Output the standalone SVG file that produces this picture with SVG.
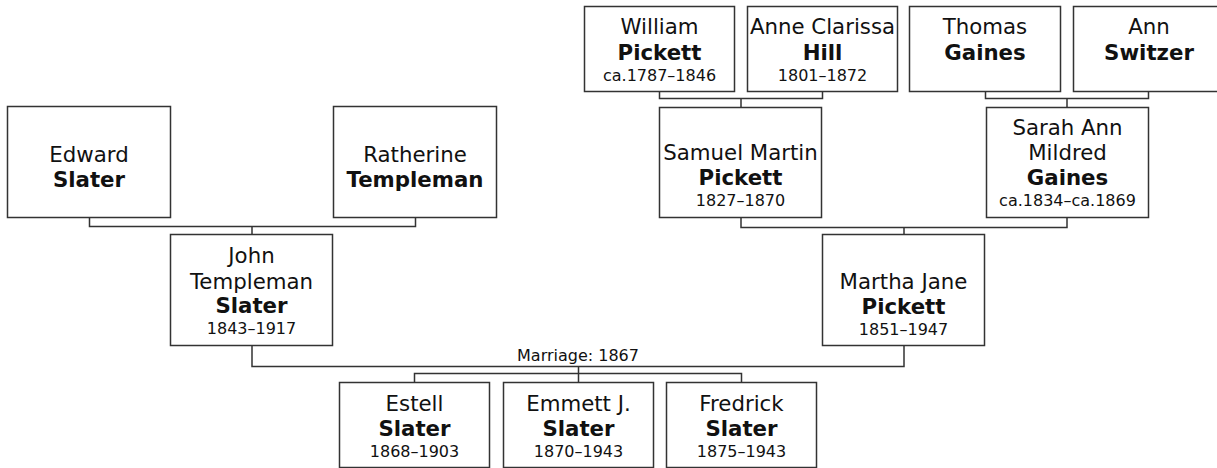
<svg xmlns="http://www.w3.org/2000/svg" width="1217" height="468" viewBox="0 0 1217 468">
<style>
.box{fill:#fff;stroke:#333;stroke-width:1.5}
.con{fill:none;stroke:#333;stroke-width:1.5}
text{font-family:"DejaVu Sans",Verdana,"Liberation Sans",sans-serif;fill:#111;text-anchor:middle}
.n{font-size:21.3px}
.s{font-size:21.3px;font-weight:bold}
.d{font-size:16px}
</style>
<rect width="1217" height="468" fill="#fff"/>
<g id="connectors">
<path class="con" d="M89.5 218 V226.5 H415.5 V218 M252 226.5 V234"/>
<path class="con" d="M659.5 91 V98.5 H822.5 V91 M741 98.5 V107"/>
<path class="con" d="M985.5 91 V98.5 H1148.5 V91 M1067 98.5 V107"/>
<path class="con" d="M741 217 V227.5 H1067 V217 M904 227.5 V234"/>
<path class="con" d="M252 345 V366.5 H904 V345 M578.5 366.5 V382 M414.5 382 V373.5 H741.5 V382"/>
<text class="d" x="578" y="361">Marriage: 1867</text>
</g>
<g id="edward"><rect class="box" x="7.5" y="106.5" width="163" height="111"/><text class="n" x="89" y="162">Edward</text><text class="s" x="89" y="187">Slater</text></g>
<g id="ratherine"><rect class="box" x="333.5" y="106.5" width="163" height="111"/><text class="n" x="415" y="162">Ratherine</text><text class="s" x="415" y="187">Templeman</text></g>
<g id="john"><rect class="box" x="170.5" y="234.5" width="162" height="111"/><text class="n" x="251.5" y="263">John</text><text class="n" x="251.5" y="289">Templeman</text><text class="s" x="251.5" y="313">Slater</text><text class="d" x="251.5" y="334">1843–1917</text></g>
<g id="william"><rect class="box" x="584.5" y="6.5" width="150" height="85"/><text class="n" x="659.5" y="34">William</text><text class="s" x="659.5" y="60">Pickett</text><text class="d" x="659.5" y="81">ca.1787–1846</text></g>
<g id="anne"><rect class="box" x="747.5" y="6.5" width="150" height="85"/><text class="n" x="822.5" y="34">Anne Clarissa</text><text class="s" x="822.5" y="60">Hill</text><text class="d" x="822.5" y="81">1801–1872</text></g>
<g id="thomas"><rect class="box" x="909.5" y="6.5" width="151" height="85"/><text class="n" x="985" y="34">Thomas</text><text class="s" x="985" y="60">Gaines</text></g>
<g id="ann"><rect class="box" x="1073.5" y="6.5" width="151" height="85"/><text class="n" x="1149" y="34">Ann</text><text class="s" x="1149" y="60">Switzer</text></g>
<g id="samuel"><rect class="box" x="659.5" y="107.5" width="162" height="110"/><text class="n" x="740.5" y="160">Samuel Martin</text><text class="s" x="740.5" y="185">Pickett</text><text class="d" x="740.5" y="206">1827–1870</text></g>
<g id="sarah"><rect class="box" x="986.5" y="107.5" width="162" height="110"/><text class="n" x="1067.5" y="135">Sarah Ann</text><text class="n" x="1067.5" y="160">Mildred</text><text class="s" x="1067.5" y="185">Gaines</text><text class="d" x="1067.5" y="206">ca.1834–ca.1869</text></g>
<g id="martha"><rect class="box" x="822.5" y="234.5" width="162" height="111"/><text class="n" x="903.5" y="289">Martha Jane</text><text class="s" x="903.5" y="314">Pickett</text><text class="d" x="903.5" y="335">1851–1947</text></g>
<g id="estell"><rect class="box" x="339.5" y="382.5" width="150" height="85"/><text class="n" x="414.5" y="411">Estell</text><text class="s" x="414.5" y="436">Slater</text><text class="d" x="414.5" y="457">1868–1903</text></g>
<g id="emmett"><rect class="box" x="503.5" y="382.5" width="150" height="85"/><text class="n" x="578.5" y="411">Emmett J.</text><text class="s" x="578.5" y="436">Slater</text><text class="d" x="578.5" y="457">1870–1943</text></g>
<g id="fredrick"><rect class="box" x="666.5" y="382.5" width="150" height="85"/><text class="n" x="741.5" y="411">Fredrick</text><text class="s" x="741.5" y="436">Slater</text><text class="d" x="741.5" y="457">1875–1943</text></g>
</svg>
